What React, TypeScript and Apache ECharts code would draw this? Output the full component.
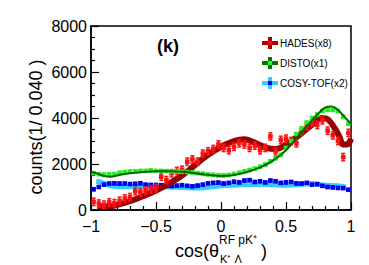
import React, { useEffect, useRef } from "react";
import * as echarts from "echarts";

// bin centres (bin width 0.04 from -1 to 1)
const binCenters: number[] = Array.from({ length: 50 }, (_, i) => +(-0.98 + 0.04 * i).toFixed(2));

const hadesData = [350, 280, 230, 330, 300, 400, 500, 560, 820, 780, 850, 900, 950, 1450, 1300, 1600, 1700, 1750, 2100, 2200, 2100, 2450, 2550, 2650, 2850, 2700, 2600, 2750, 2900, 2850, 2700, 2800, 2600, 2700, 3200, 2550, 3050, 3100, 3000, 2900, 3400, 3650, 3800, 3700, 3900, 3450, 3250, 3000, 2300, 3350];
const hadesErr = 160;

const distoData = [1600, 1560, 1540, 1550, 1560, 1620, 1650, 1670, 1680, 1700, 1700, 1720, 1700, 1700, 1690, 1680, 1680, 1660, 1650, 1630, 1600, 1580, 1550, 1530, 1500, 1500, 1520, 1570, 1620, 1680, 1740, 1800, 1880, 1980, 2120, 2250, 2400, 2700, 3000, 3300, 3550, 3800, 4000, 4150, 4300, 4350, 4350, 4300, 4050, 3750];
const distoErr = 50;

const cosyData = [900, 1000, 1100, 1150, 1160, 1150, 1150, 1130, 1140, 1160, 1100, 1090, 1090, 1080, 1050, 1040, 1060, 1080, 1050, 1030, 1060, 1100, 1160, 1180, 1190, 1150, 1180, 1230, 1200, 1280, 1300, 1220, 1250, 1200, 1280, 1250, 1180, 1200, 1220, 1160, 1150, 1180, 1100, 1120, 1050, 1000, 980, 960, 950, 880];
const cosyErr = 50;

const hadesModel: [number, number][] = [[-0.95, 170], [-0.9, 150], [-0.85, 160], [-0.8, 220], [-0.7, 380], [-0.6, 600], [-0.5, 850], [-0.4, 1150], [-0.3, 1500], [-0.2, 1950], [-0.1, 2400], [0, 2750], [0.1, 3000], [0.18, 3080], [0.25, 2950], [0.35, 2700], [0.42, 2650], [0.5, 2850], [0.6, 3250], [0.7, 3700], [0.78, 4000], [0.82, 3950], [0.87, 3600], [0.91, 3200], [0.94, 2850], [0.97, 2850], [1.0, 3100]];

const distoModel: [number, number][] = [[-1, 1650], [-0.95, 1580], [-0.9, 1480], [-0.85, 1450], [-0.8, 1500], [-0.7, 1600], [-0.6, 1650], [-0.5, 1680], [-0.4, 1680], [-0.3, 1660], [-0.2, 1600], [-0.1, 1530], [0, 1480], [0.1, 1520], [0.2, 1650], [0.3, 1850], [0.4, 2150], [0.5, 2600], [0.6, 3250], [0.7, 3900], [0.75, 4200], [0.8, 4450], [0.85, 4500], [0.9, 4350], [0.95, 4050], [1.0, 3750]];

const cosyModel: [number, number][] = [[-0.96, 1250], [-0.92, 1200], [-0.88, 1100], [-0.84, 1040], [-0.8, 1020], [-0.7, 1010], [-0.6, 1000], [-0.5, 990], [-0.4, 1000], [-0.3, 980], [-0.2, 960], [-0.1, 990], [0, 1050], [0.1, 1080], [0.2, 1100], [0.3, 1120], [0.4, 1100], [0.5, 1080], [0.6, 1100], [0.7, 1150], [0.8, 1080], [0.9, 1050], [0.96, 1000]];

const legendNames = ["HADES(x8)", "DISTO(x1)", "COSY-TOF(x2)"];
const FONT = "Liberation Sans, Arial, sans-serif";

function errSeries(name: string, ys: number[], err: number, color: string, z: number) {
  return {
    type: "custom",
    name,
    z,
    clip: true,
    data: binCenters.map((x, i) => [x, ys[i], err]),
    encode: { x: 0, y: 1 },
    renderItem: (_p: any, api: any) => {
      const x = api.value(0);
      const y = api.value(1);
      const e = api.value(2);
      const p = api.coord([x, y]);
      const t = api.coord([x, y + e]);
      const b = api.coord([x, y - e]);
      return {
        type: "group",
        children: [
          { type: "line", shape: { x1: p[0], y1: t[1], x2: p[0], y2: b[1] }, style: { stroke: color, lineWidth: 1.5 } },
          { type: "line", shape: { x1: p[0] - 2, y1: t[1], x2: p[0] + 2, y2: t[1] }, style: { stroke: color, lineWidth: 1.5 } },
          { type: "line", shape: { x1: p[0] - 2, y1: b[1], x2: p[0] + 2, y2: b[1] }, style: { stroke: color, lineWidth: 1.5 } },
          { type: "rect", shape: { x: p[0] - 2.3, y: p[1] - 2.3, width: 4.6, height: 4.6 }, style: { fill: color } },
        ],
      };
    },
  };
}

function legendRow(y: number, cross: string, center: string, label: string) {
  return {
    type: "group",
    children: [
      { type: "rect", shape: { x: 262, y: y - 2, width: 16, height: 4 }, style: { fill: cross } },
      { type: "rect", shape: { x: 268, y: y - 6, width: 4, height: 12 }, style: { fill: cross } },
      { type: "rect", shape: { x: 268, y: y - 2, width: 4, height: 4 }, style: { fill: center } },
      { type: "text", x: 280, y, style: { text: label, fontSize: 10, fontFamily: FONT, fill: "#000", verticalAlign: "middle", align: "left" } },
    ],
  };
}

export default function App() {
  const ref = useRef<HTMLDivElement>(null);
  useEffect(() => {
    if (!ref.current) return;
    const chart = echarts.init(ref.current, undefined, { renderer: "svg" });
    const minus = (v: number) => (v < 0 ? "\u2212" + Math.abs(v) : String(v));
    chart.setOption({
      animation: false,
      backgroundColor: "#fff",
      grid: { left: 91, top: 26, right: 18, bottom: 55, show: true, borderColor: "#000", borderWidth: 1.5, backgroundColor: "transparent" },
      xAxis: {
        type: "value", min: -1, max: 1, interval: 0.5,
        axisLine: { show: true, onZero: false, lineStyle: { color: "#000", width: 1.5 } },
        axisTick: { show: true, inside: true, length: 8, lineStyle: { color: "#000", width: 1.2 } },
        minorTick: { show: true, splitNumber: 5, length: 4, lineStyle: { color: "#000", width: 1.2 } },
        splitLine: { show: false },
        axisLabel: { color: "#000", fontSize: 16, fontFamily: FONT, margin: 8, formatter: minus },
      },
      yAxis: {
        type: "value", min: 0, max: 8000, interval: 2000,
        axisLine: { show: true, onZero: false, lineStyle: { color: "#000", width: 1.5 } },
        axisTick: { show: true, inside: true, length: 8, lineStyle: { color: "#000", width: 1.2 } },
        minorTick: { show: true, splitNumber: 4, length: 4, lineStyle: { color: "#000", width: 1.2 } },
        splitLine: { show: false },
        axisLabel: { color: "#000", fontSize: 16, fontFamily: FONT, margin: 4, formatter: minus },
      },
      series: [
        { type: "line", name: "COSY model", data: cosyModel, smooth: 0.4, showSymbol: false, z: 2, lineStyle: { color: "#33ccff", width: 5 } },
        errSeries("COSY-TOF", cosyData, cosyErr, "#0000ee", 3),
        { type: "line", name: "HADES model", data: hadesModel, smooth: 0.4, showSymbol: false, z: 4, lineStyle: { color: "#990000", width: 6 } },
        errSeries("HADES", hadesData, hadesErr, "#ff1111", 5),
        errSeries("DISTO", distoData, distoErr, "#22ee22", 6),
        { type: "line", name: "DISTO model", data: distoModel, smooth: 0.4, showSymbol: false, z: 7, lineStyle: { color: "#006600", width: 2 } },
      ],
      graphic: [
        { type: "text", x: 168, y: 46, style: { text: "(k)", fontSize: 18, fontWeight: "bold", fontFamily: FONT, fill: "#000", align: "center", verticalAlign: "middle" } },
        legendRow(43, "#aa0000", "#ee1111", legendNames[0]),
        legendRow(63, "#007700", "#33ee33", legendNames[1]),
        legendRow(83, "#33ccff", "#0000ff", legendNames[2]),
        { type: "text", x: 36, y: 127, rotation: Math.PI / 2, style: { text: "counts(1/ 0.040 )", fontSize: 18, fontFamily: FONT, fill: "#000", align: "center", verticalAlign: "middle" } },
        { type: "text", x: 175, y: 251, style: { text: "cos(\u03b8", fontSize: 18, fontFamily: FONT, fill: "#000", align: "left", verticalAlign: "middle" } },
        { type: "text", x: 219, y: 240, style: { text: "RF pK\u207a", fontSize: 12, fontFamily: FONT, fill: "#000", align: "left", verticalAlign: "middle" } },
        { type: "text", x: 220, y: 259, style: { text: "K\u207a \u039b", fontSize: 11, fontFamily: FONT, fill: "#000", align: "left", verticalAlign: "middle" } },
        { type: "text", x: 261, y: 251, style: { text: ")", fontSize: 18, fontFamily: FONT, fill: "#000", align: "left", verticalAlign: "middle" } },
      ],
    });
    return () => chart.dispose();
  }, []);
  return <div ref={ref} style={{ position: "absolute", left: 0, top: 0, width: 369, height: 265 }} />;
}
